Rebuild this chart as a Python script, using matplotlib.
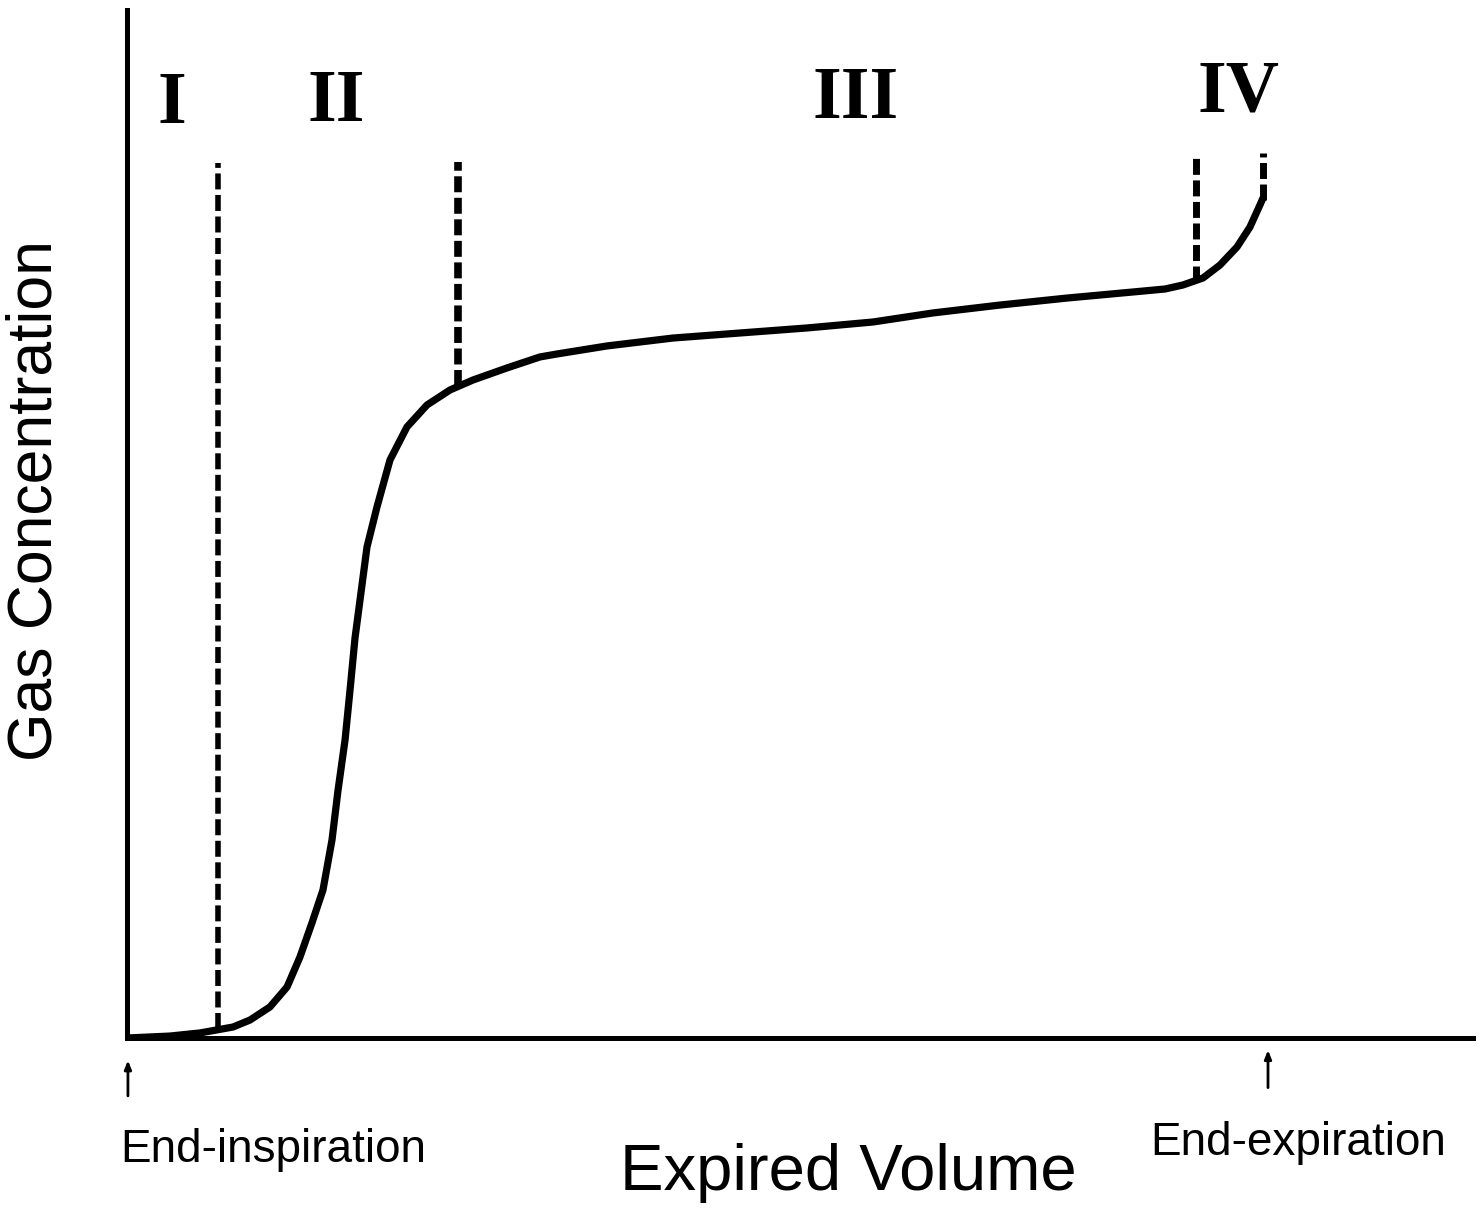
import matplotlib
matplotlib.use("Agg")
import matplotlib.pyplot as plt

# ----- data (x: expired volume, y: gas concentration, arbitrary units) -----
vol = [0.000, 0.319, 0.542, 0.788, 0.914, 1.062, 1.189, 1.285, 1.374, 1.456,
       1.523, 1.568, 1.620, 1.657, 1.694, 1.783, 1.857, 1.954, 2.080,
       2.229, 2.400, 2.571, 2.823, 3.068, 3.195, 3.566, 4.056, 4.554, 5.052,
       5.542, 5.988, 6.486, 6.984, 7.474, 7.712, 7.845, 7.994, 8.120, 8.247,
       8.343, 8.417, 8.440]
conc = [0.00, 0.19, 0.49, 1.07, 1.75, 3.02, 4.96, 7.88, 11.19, 14.40,
        19.26, 24.12, 28.99, 33.85, 38.91, 47.76, 51.65, 56.23, 59.44,
        61.58, 63.04, 64.01, 65.18, 66.25, 66.54, 67.32, 68.09, 68.58, 69.07,
        69.65, 70.53, 71.30, 71.98, 72.57, 72.86, 73.25, 73.93, 75.19, 76.95,
        78.89, 81.03, 81.71]

# phase boundaries: x, y bottom, y top
bound_x = [0.676, 2.459, 7.942, 8.440]
bound_y0 = [0.9, 63.4, 73.5, 81.5]
bound_y1 = [85.1, 85.2, 86.1, 86.1]
bound_lw = [4.0, 5.5, 5.0, 5.0]

phases = ["I", "II", "III", "IV"]
phase_x = [0.334, 1.553, 5.416, 8.261]
phase_y = [89.0, 89.2, 89.5, 90.1]

plt.rcParams['lines.scale_dashes'] = False

fig = plt.figure(figsize=(14.83, 12.12), dpi=100)
ax = fig.add_axes([127 / 1483, 174 / 1212, 1346 / 1483, 1028 / 1212])
ax.set_xlim(0, 10)
ax.set_ylim(0, 100)

for s in ['top', 'right']:
    ax.spines[s].set_visible(False)
for s in ['left', 'bottom']:
    ax.spines[s].set_linewidth(3.6)
ax.set_xticks([])
ax.set_yticks([])

ax.plot(vol, conc, color='black', lw=5.2, solid_capstyle='round',
        solid_joinstyle='round')

for x, y0, y1, lw in zip(bound_x, bound_y0, bound_y1, bound_lw):
    ax.plot([x, x], [y0, y1], color='black', lw=lw, dashes=(11.5, 4),
            dash_capstyle='butt')

for txt, x, y in zip(phases, phase_x, phase_y):
    ax.text(x, y, txt, ha='center', va='baseline', fontsize=53,
            fontweight='bold', family='Liberation Serif')

# start / end markers under the x axis
ax.annotate('', xy=(0.007, -1.9), xytext=(0.007, -5.9), annotation_clip=False,
            arrowprops=dict(arrowstyle='-|>,head_length=0.5,head_width=0.2',
                            color='black', lw=2))
ax.annotate('', xy=(8.477, -0.9), xytext=(8.477, -5.1), annotation_clip=False,
            arrowprops=dict(arrowstyle='-|>,head_length=0.5,head_width=0.2',
                            color='black', lw=2))

ax.text(-0.052, -12.06, "End-inspiration", ha='left', va='baseline',
        fontsize=33, family='Liberation Sans', clip_on=False)
ax.text(8.70, -11.38, "End-expiration", ha='center', va='baseline',
        fontsize=33, family='Liberation Sans', clip_on=False)
ax.text(5.357, -14.79, "Expired Volume", ha='center', va='baseline',
        fontsize=47, family='Liberation Sans', clip_on=False)
ax.text(-0.684, 52.3, "Gas Concentration", ha='center', va='center',
        rotation=90, fontsize=45, family='Liberation Sans', clip_on=False)

fig.savefig("out.png", dpi=100)
